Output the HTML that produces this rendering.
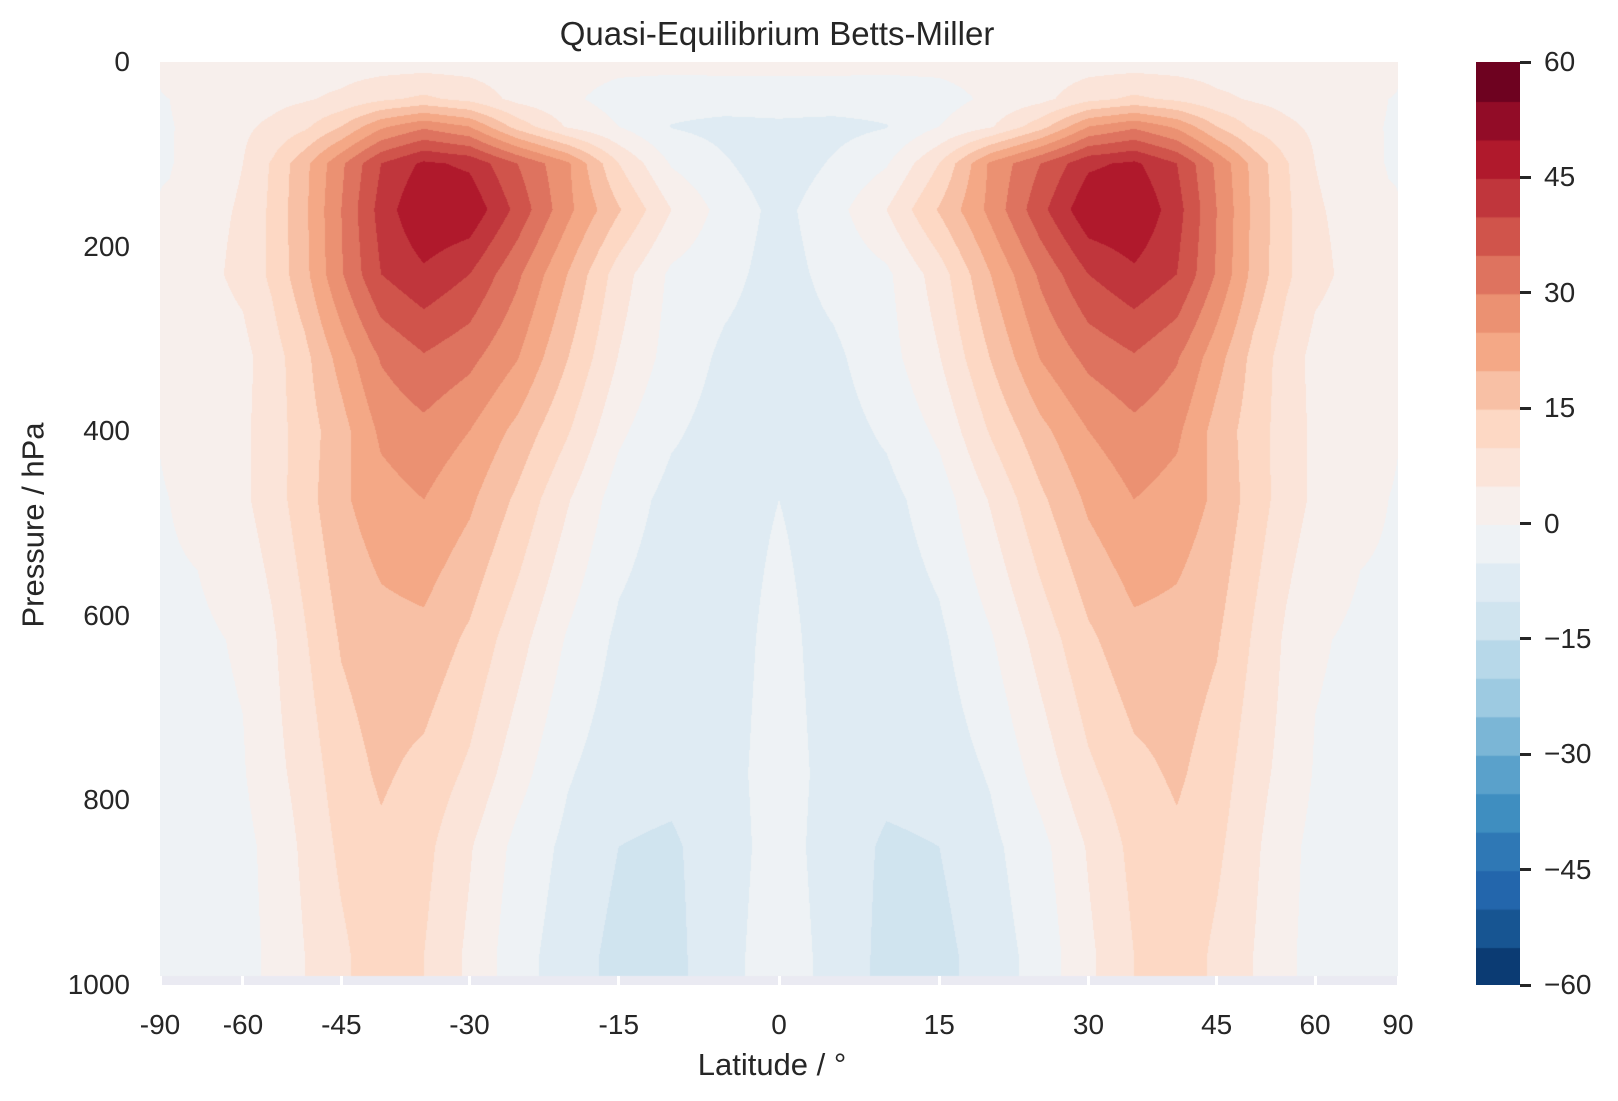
<!DOCTYPE html>
<html><head><meta charset="utf-8"><style>
body{margin:0;background:#fff;width:1618px;height:1101px;overflow:hidden;font-family:"Liberation Sans",sans-serif;color:#262626}
#wrap{position:relative;width:1618px;height:1101px}
.t{position:absolute;white-space:nowrap;font-size:28px;line-height:1}
</style></head><body>
<div id="wrap">
<div class="t" style="left:777px;top:17px;transform:translateX(-50%);font-size:33px">Quasi-Equilibrium Betts-Miller</div>
<div style="position:absolute;left:160px;top:62px;width:1238px;height:923px;background:#eaeaf2"></div>
<canvas id="cv" width="1238" height="915" style="position:absolute;left:160px;top:62px"></canvas>
<div class="t" style="left:33px;top:525px;transform:translate(-50%,-50%) rotate(-90deg);font-size:31px">Pressure / hPa</div>
<div class="t" style="left:772px;top:1049px;transform:translateX(-50%);font-size:31px">Latitude / °</div>
<canvas id="cb" width="44" height="923" style="position:absolute;left:1476px;top:62px"></canvas>
<div id="ax"></div>
</div>
<script>
const latitudes=[0,5,10,15,20,25,30,35,40,45,50,55,60,70,80,90];
const pressureLevels=[0,40,70,110,160,230,320,400,474,626,771,850,968,990];
const u0  =[1.5,1.5,1.5,1.5,2,2,2.5,2.5,2.5,2.5,2.5,2.5,2.5,2,1.5,1];
const u40 =[-2.5,-2.5,-2.8,-2,1,3.5,8.5,11,9,6,4.5,3.5,3,2,0,-0.5];
const u70 =[-6,-6.5,-5.2,0,4.5,13,25,29,24,15,9,6,4,1.5,-0.5,-1];
const u110=[-8,-4.5,-0.5,10,26,35,44,46,40,29,18.5,10.5,5,2,-0.5,-1];
const u160=[-6.5,-2,5,15.5,26.5,38.5,49,50,42,30,19,11,5.5,3,1,0.5];
const u230=[-7,-3.5,-1,7.5,20,31,40,44,40,29.5,18.5,11,6.2,3,2,2];
const u320=[-7.5,-6,-2,4.8,15.2,25.3,31.5,34.5,30.5,22,13.5,7.5,3.5,2,1.5,1.5];
const u400=[-6,-7,-4.3,1,10.5,18.5,25,28.5,26,18,12.5,7.5,4,1.5,0.8,0.3];
const u474=[-5,-7,-6.5,-2.5,5.5,14,21,25,23,19,12.7,7.5,4,1,0,-0.8];
const u626=[-3.5,-7,-8,-6,-0.5,7,14,18.5,18,15.5,9.5,4.2,0.5,-1,-1,-1.2];
const u771=[-3,-6.5,-8.5,-8,-4.5,2,9,13.5,15.8,12.5,7,3.2,-0.4,-1.5,-1.5,-1.5];
const u850=[-3,-7,-10.8,-10,-6.2,-1.5,5.5,11.5,14,11,6,1.5,-1.5,-2,-2,-2];
const u968=[-2.5,-6.5,-11.5,-11.5,-7.5,-3,4,10,13,9,5,0.8,-1.5,-2.5,-2.5,-2];
const u990=[-2.5,-6.5,-11.5,-11.5,-7.5,-3,4,10,13,9,5,0.8,-1.5,-2.5,-2.5,-2];
const windField=[u0,u40,u70,u110,u160,u230,u320,u400,u474,u626,u771,u850,u968,u990];
const levelColors=["#0b3b73","#175592","#2366ac","#2f78b5","#3f8ec0","#5aa1cb","#7bb6d6","#9dcae1","#b7d8e9","#d0e4ef","#dfebf3","#eef2f5","#f7efec","#fbe4d9","#fdd8c4","#f8c0a5","#f4a886","#eb9172","#de735f","#d0544b","#c0363c","#b0192c","#920c27","#6e0220"];
const xTicks=[-90,-60,-45,-30,-15,0,15,30,45,60,90];
const yTicks=[0,200,400,600,800,1000];
const cbTicks=[60,45,30,15,0,-15,-30,-45,-60];
const vmin=-60,vmax=60,step=5;

const X0=160,X1=1398,XC=(X0+X1)/2,XH=(X1-X0)/2,Y0=62,YS=0.923;
const xOf=lat=>XC+XH*Math.sin(lat*Math.PI/180);
const yOf=p=>Y0+p*YS;
function hex(c){return [parseInt(c.slice(1,3),16),parseInt(c.slice(3,5),16),parseInt(c.slice(5,7),16)];}
const rgb=levelColors.map(hex);
function idx(arr,v){let i=0;while(i<arr.length-2&&v>arr[i+1])i++;return i;}
function val(lat,p){
  const a=Math.abs(lat);
  const i=idx(latitudes,a),j=idx(pressureLevels,p);
  const tx=Math.min(1,Math.max(0,(a-latitudes[i])/(latitudes[i+1]-latitudes[i])));
  const ty=Math.min(1,Math.max(0,(p-pressureLevels[j])/(pressureLevels[j+1]-pressureLevels[j])));
  const r0=windField[j],r1=windField[j+1];
  return (r0[i]*(1-tx)+r0[i+1]*tx)*(1-ty)+(r1[i]*(1-tx)+r1[i+1]*tx)*ty;
}
const cv=document.getElementById('cv'),ctx=cv.getContext('2d');
const W=cv.width,H=cv.height,img=ctx.createImageData(W,H);
const pMax=pressureLevels[pressureLevels.length-1];
for(let y=0;y<H;y++){
  const p=(y+0.5)/YS;
  for(let x=0;x<W;x++){
    const o=(y*W+x)*4;
    if(p>pMax){img.data[o+3]=0;continue;}
    const s=(X0+x+0.5-XC)/XH;
    const lat=Math.asin(Math.max(-1,Math.min(1,s)))*180/Math.PI;
    const v=val(lat,p);
    let k=Math.floor((v-vmin)/step);k=Math.max(0,Math.min(rgb.length-1,k));
    const c=rgb[k];img.data[o]=c[0];img.data[o+1]=c[1];img.data[o+2]=c[2];img.data[o+3]=255;
  }
}
ctx.putImageData(img,0,0);
const cb=document.getElementById('cb'),cc=cb.getContext('2d');
const nb=levelColors.length,bh=cb.height/nb;
for(let k=0;k<nb;k++){cc.fillStyle=levelColors[k];cc.fillRect(0,cb.height-(k+1)*bh,cb.width,Math.ceil(bh)+1);}
const ax=document.getElementById('ax');
function add(html){const d=document.createElement('div');d.innerHTML=html;const e=d.firstChild;ax.appendChild(e);return e;}
xTicks.forEach(t=>{
  const x=xOf(t);
  const m=add('<div></div>');
  
  
  m.style.cssText=`position:absolute;left:${x-1.5}px;top:976px;width:3px;height:10px;background:#fff`;
  const l=add('<div class="t"></div>');
  
  
  l.textContent=String(t);
  l.style.left=x+'px';l.style.top='1011px';l.style.transform='translateX(-50%)';
});
yTicks.forEach(t=>{
  const y=yOf(t);
  const l=add('<div class="t"></div>');
  
  
  l.textContent=String(t);
  l.style.right=(1618-130)+'px';l.style.top=(y-14)+'px';
});
cbTicks.forEach(t=>{
  const y=62+(vmax-t)/(vmax-vmin)*923;
  const m=add('<div></div>');
  
  
  m.style.cssText=`position:absolute;left:1520px;top:${y-1.5}px;width:11px;height:3px;background:#262626`;
  const l=add('<div class="t"></div>');
  
  
  l.textContent=(t<0?'\u2212':'')+Math.abs(t);
  l.style.left='1544px';l.style.top=(y-14)+'px';
});
</script>
</body></html>
